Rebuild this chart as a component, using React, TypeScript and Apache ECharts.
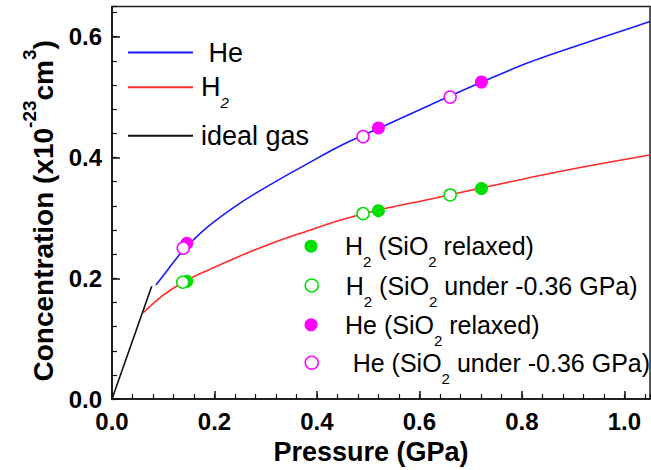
import React, { useEffect, useRef } from 'react';
import * as echarts from 'echarts';

// Fitted curves
const heCurveX = [0.086, 0.11, 0.139, 0.185, 0.25, 0.315, 0.38, 0.445, 0.52, 0.621, 0.722, 0.816, 0.947, 1.05];
const heCurveY = [0.189, 0.2155, 0.2462, 0.284, 0.3246, 0.358, 0.389, 0.419, 0.448, 0.487, 0.525, 0.558, 0.596, 0.625];
const h2CurveX = [0.061, 0.1, 0.139, 0.185, 0.25, 0.315, 0.38, 0.445, 0.52, 0.62, 0.722, 0.881, 1.05];
const h2CurveY = [0.143, 0.172, 0.1935, 0.2126, 0.237, 0.259, 0.278, 0.296, 0.313, 0.331, 0.3497, 0.378, 0.404];
const idealX = [0, 0.0775];
const idealY = [0, 0.187];

// Data points
const h2RelaxedX = [0.146, 0.52, 0.721];
const h2RelaxedY = [0.195, 0.312, 0.3485];
const h2StrainedX = [0.138, 0.49, 0.66];
const h2StrainedY = [0.1935, 0.307, 0.338];
const heRelaxedX = [0.146, 0.52, 0.721];
const heRelaxedY = [0.258, 0.449, 0.525];
const heStrainedX = [0.139, 0.49, 0.66];
const heStrainedY = [0.25, 0.4345, 0.5];

const xTicks = [0.0, 0.2, 0.4, 0.6, 0.8, 1.0];
const yTicks = [0.0, 0.2, 0.4, 0.6];

const FONT = '"Liberation Sans", Arial, Helvetica, sans-serif';
const BLUE = '#1a1aff';
const RED = '#ff2a2a';
const BLACK = '#111111';
const GREEN = '#00e000';
const MAGENTA = '#ff00ff';

const zip = (xs: number[], ys: number[]) => xs.map((x, i) => [x, ys[i]]);

export default function App() {
  const ref = useRef<HTMLDivElement>(null);
  useEffect(() => {
    const chart = echarts.init(ref.current!, null, { renderer: 'svg' });

    const lineLegendBase = {
      orient: 'vertical',
      left: 128,
      padding: 0,
      selectedMode: false,
      icon: 'rect',
      itemWidth: 65,
      itemHeight: 2,
      textStyle: {
        fontFamily: FONT,
        fontSize: 27,
        color: '#000',
        padding: [0, 0, 0, 3],
        rich: {
          t: { fontFamily: FONT, fontSize: 27, lineHeight: 27, color: '#000' },
          h: { fontFamily: FONT, fontSize: 27, lineHeight: 46, color: '#000' },
          s: { fontFamily: FONT, fontSize: 15, fontStyle: 'italic', lineHeight: 15, verticalAlign: 'bottom', color: '#000' },
        },
      },
    };
    const ptLegendBase = {
      orient: 'vertical',
      left: 304.5,
      padding: 0,
      selectedMode: false,
      itemWidth: 58,
      itemHeight: 13,
      textStyle: {
        fontFamily: FONT,
        fontSize: 25,
        color: '#000',
        rich: {
          t: { fontFamily: FONT, fontSize: 25, lineHeight: 46, color: '#000' },
          s: { fontFamily: FONT, fontSize: 15, lineHeight: 15, verticalAlign: 'bottom', color: '#000' },
        },
      },
    };
    const fmt: Record<string, string> = {
      'He': '{t| He}',
      'H2': '{h|H}{s|2}',
      'ideal gas': '{t|ideal gas}',
      'H2 (SiO2 relaxed)': '{t|H}{s|2}{t| (SiO}{s|2}{t| relaxed)}',
      'H2 (SiO2 under -0.36 GPa)': '{t|H}{s|2}{t| (SiO}{s|2}{t| under -0.36 GPa)}',
      'He (SiO2 relaxed)': '{t|He (SiO}{s|2}{t| relaxed)}',
      'He (SiO2 under -0.36 GPa)': '{t| He (SiO}{s|2}{t| under -0.36 GPa)}',
    };
    const formatter = (n: string) => fmt[n] || n;

    const option: any = {
      animation: false,
      backgroundColor: '#ffffff',
      grid: {
        left: 112,
        right: 1,
        top: 6.5,
        bottom: 69,
        show: true,
        borderColor: '#222',
        borderWidth: 1.5,
      },
      legend: [
        { ...lineLegendBase, top: 39, data: ['He'], formatter },
        { ...lineLegendBase, top: 73.7, data: ['H2'], formatter },
        { ...lineLegendBase, top: 122.3, data: ['ideal gas'], formatter },
        { ...ptLegendBase, top: 245.7 - 12, data: [{ name: 'H2 (SiO2 relaxed)', icon: 'circle', itemStyle: { color: GREEN, borderWidth: 0 } }], formatter },
        { ...ptLegendBase, top: 285 - 12, data: [{ name: 'H2 (SiO2 under -0.36 GPa)', icon: 'circle', itemStyle: { color: '#fff', borderColor: GREEN, borderWidth: 1.5 } }], formatter },
        { ...ptLegendBase, top: 324.3 - 12, data: [{ name: 'He (SiO2 relaxed)', icon: 'circle', itemStyle: { color: MAGENTA, borderWidth: 0 } }], formatter },
        { ...ptLegendBase, top: 362.3 - 12, data: [{ name: 'He (SiO2 under -0.36 GPa)', icon: 'circle', itemStyle: { color: '#fff', borderColor: MAGENTA, borderWidth: 1.5 } }], formatter },
      ],
      xAxis: [
        {
          type: 'value',
          position: 'bottom',
          min: 0,
          max: 1.05,
          interval: 0.2,
          name: 'Pressure (GPa)',
          nameLocation: 'middle',
          nameGap: 38,
          nameTextStyle: { fontFamily: FONT, fontSize: 27, fontWeight: 'bold', color: '#000', lineHeight: 27, padding: [0, 20, 0, 0] },
          axisLine: { show: true, lineStyle: { color: '#111', width: 1.5 } },
          axisTick: { show: true, inside: true, length: 8, lineStyle: { color: '#111', width: 1.5 } },
          axisLabel: {
            show: true,
            margin: 10,
            showMaxLabel: false,
            fontFamily: FONT,
            fontSize: 24,
            fontWeight: 'bold',
            color: '#000',
            formatter: (v: number) => (xTicks.some((t) => Math.abs(t - v) < 1e-6) ? v.toFixed(1) : ''),
          },
          splitLine: { show: false },
        },
        {
          type: 'value',
          position: 'bottom',
          min: 0,
          max: 1.05,
          interval: 0.04,
          axisLine: { show: false },
          axisTick: { show: true, inside: true, length: 5, lineStyle: { color: '#111', width: 1.2 } },
          axisLabel: { show: false },
          splitLine: { show: false },
        },
      ],
      yAxis: [
        {
          type: 'value',
          position: 'left',
          min: 0,
          max: 0.65,
          interval: 0.2,
          name: '{b|Concentration (x10}{p|-23}{b|cm}{p|3}{b|)}',
          nameLocation: 'middle',
          nameRotate: 90,
          nameGap: 44,
          nameTextStyle: {
            padding: [0, 16, 0, 0],
            rich: {
              b: { fontFamily: FONT, fontSize: 28, fontWeight: 'bold', color: '#000', lineHeight: 47 },
              p: { fontFamily: FONT, fontSize: 19, fontWeight: 'bold', color: '#000', lineHeight: 19, verticalAlign: 'top' },
            },
          },
          axisLine: { show: true, lineStyle: { color: '#111', width: 1.5 } },
          axisTick: { show: true, inside: true, length: 8, lineStyle: { color: '#111', width: 1.5 } },
          axisLabel: {
            show: true,
            margin: 10,
            showMaxLabel: false,
            fontFamily: FONT,
            fontSize: 24,
            fontWeight: 'bold',
            color: '#000',
            formatter: (v: number) => (yTicks.some((t) => Math.abs(t - v) < 1e-6) ? v.toFixed(1) : ''),
          },
          splitLine: { show: false },
        },
        {
          type: 'value',
          position: 'left',
          min: 0,
          max: 0.65,
          interval: 0.04,
          axisLine: { show: false },
          axisTick: { show: true, inside: true, length: 5, lineStyle: { color: '#111', width: 1.2 } },
          axisLabel: { show: false },
          splitLine: { show: false },
        },
      ],
      series: [
        {
          name: 'He', type: 'line', smooth: 0.35, showSymbol: false, symbol: 'none',
          lineStyle: { color: BLUE, width: 1.6 }, itemStyle: { color: BLUE },
          data: zip(heCurveX, heCurveY), z: 2,
        },
        {
          name: 'H2', type: 'line', smooth: 0.35, showSymbol: false, symbol: 'none',
          lineStyle: { color: RED, width: 1.6 }, itemStyle: { color: RED },
          data: zip(h2CurveX, h2CurveY), z: 2,
        },
        {
          name: 'ideal gas', type: 'line', showSymbol: false, symbol: 'none',
          lineStyle: { color: BLACK, width: 1.6 }, itemStyle: { color: BLACK },
          data: zip(idealX, idealY), z: 2,
        },
        {
          name: 'H2 (SiO2 relaxed)', type: 'scatter', symbol: 'circle', symbolSize: 13,
          itemStyle: { color: GREEN, opacity: 1 }, data: zip(h2RelaxedX, h2RelaxedY), z: 3,
        },
        {
          name: 'H2 (SiO2 under -0.36 GPa)', type: 'scatter', symbol: 'circle', symbolSize: 12,
          itemStyle: { color: '#ffffff', borderColor: GREEN, borderWidth: 1.5, opacity: 1 }, data: zip(h2StrainedX, h2StrainedY), z: 4,
        },
        {
          name: 'He (SiO2 relaxed)', type: 'scatter', symbol: 'circle', symbolSize: 13,
          itemStyle: { color: MAGENTA, opacity: 1 }, data: zip(heRelaxedX, heRelaxedY), z: 3,
        },
        {
          name: 'He (SiO2 under -0.36 GPa)', type: 'scatter', symbol: 'circle', symbolSize: 12,
          itemStyle: { color: '#ffffff', borderColor: MAGENTA, borderWidth: 1.5, opacity: 1 }, data: zip(heStrainedX, heStrainedY), z: 4,
        },
      ],
    };
    chart.setOption(option);
    return () => chart.dispose();
  }, []);
  return (
    <div
      ref={ref}
      style={{ position: 'fixed', left: 0, top: 0, width: 651, height: 470, background: '#fff' }}
    />
  );
}
